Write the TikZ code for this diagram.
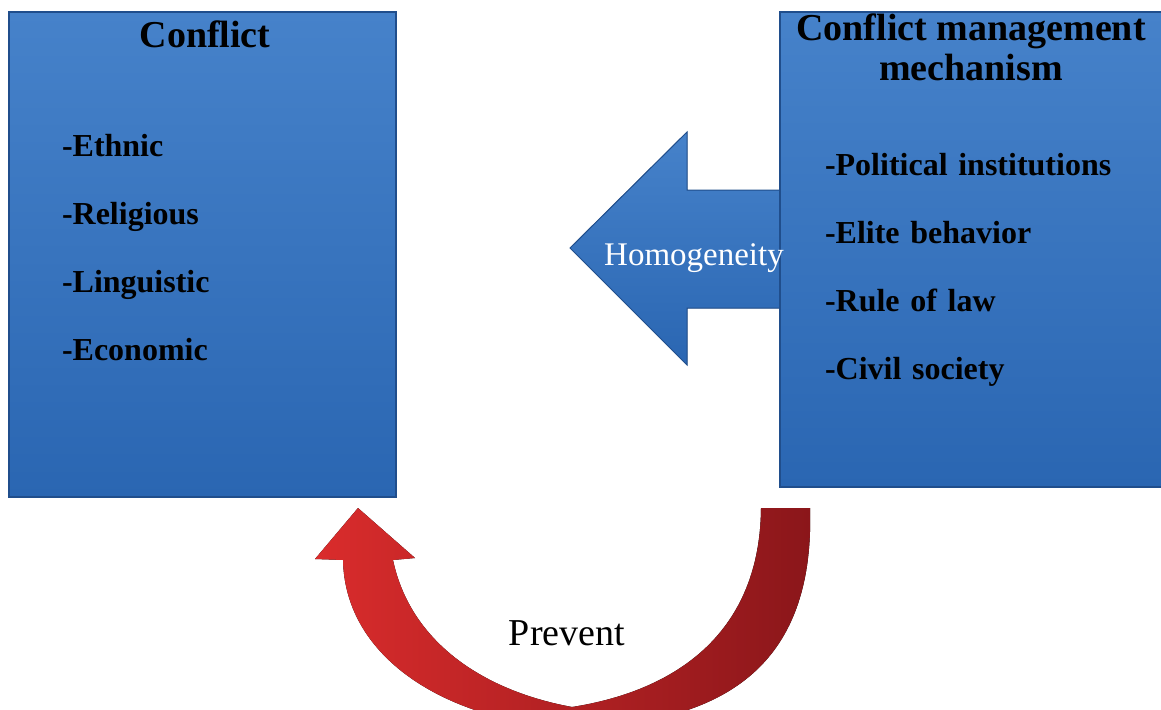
\documentclass[tikz,border=0pt]{standalone}
\usepackage{fontspec}
\setmainfont{Liberation Serif}
\usepackage{tikz}
\usetikzlibrary{positioning}

\definecolor{boxtop}{RGB}{70,130,202}
\definecolor{boxbot}{RGB}{42,102,178}
\definecolor{boxedge}{RGB}{32,78,140}
\definecolor{redlight}{RGB}{218,44,44}
\definecolor{reddark}{RGB}{138,22,26}

\tikzset{
  panel/.style={draw=boxedge, line width=1.2pt, top color=boxtop, bottom color=boxbot, inner sep=0pt},
  title/.style={font=\fontsize{38}{40}\selectfont\bfseries, inner sep=0pt},
  item/.style={font=\fontsize{32}{36}\selectfont\bfseries, text width=300pt, align=left,
    text height=22pt, text depth=7pt, inner sep=0pt},
}

\begin{document}
\begin{tikzpicture}[x=1pt,y=-1pt,node distance=68pt,on grid]
    \useasboundingbox (0,0) rectangle (1161,709);
    % blue arrow, under the right panel
    \coordinate (tip) at (570,248);
    \fill[draw=boxedge, line width=1pt, top color=boxtop, bottom color=boxbot]
      (tip) -- (687,132) -- (687,190) -- (800,190) -- (800,308) -- (687,308) -- (687,365) -- cycle;

    \node (conf) [panel, minimum width=387pt, minimum height=485pt] at (202.5,254.5) {};
    \node (mech) [panel, minimum width=400pt, minimum height=475pt] at (980,249.5) {};

    \node (ctitle) [title, anchor=base] at (205,48) {Conflict};
    \node (mtitle) [title, align=center, anchor=north] at (971,14) {Conflict management\\mechanism};

    \node (ethnic) [item] at (212,148.5) {-Ethnic};
    \node (relig) [item, below=of ethnic] {-Religious};
    \node (ling) [item, below=of relig] {-Linguistic};
    \node (econ) [item, below=of ling] {-Economic};

    \node (polit) [item] at (975,167.5) {-Political institutions};
    \node (elite) [item, below=of polit] {-Elite behavior};
    \node (law) [item, below=of elite] {-Rule of law};
    \node (civil) [item, below=of law] {-Civil society};

    \node (homo) [font=\fontsize{33}{36}\selectfont, text=white, inner sep=0pt, anchor=base] at (694,265) {Homogeneity};

    % red curved arrow
    \coordinate (rtop) at (810,508);
    \coordinate (outbot) at (572,728);
    \coordinate (inbot) at (572,707);
    \coordinate (ltip) at (358,508);
    \fill[left color=redlight, right color=reddark]
      (rtop) .. controls (815,670) and (720,724) .. (outbot)
      .. controls (450,722) and (345,660) .. (343,560)
      -- (315,559) -- (ltip) -- (415,558) -- (393,560)
      .. controls (410,640) and (480,690) .. (inbot)
      .. controls (680,690) and (760,630) .. (761,508) -- cycle;

    \node (prevent) [font=\fontsize{38}{40}\selectfont, inner sep=0pt, anchor=base] at (567,645) {Prevent};
\end{tikzpicture}
\end{document}
